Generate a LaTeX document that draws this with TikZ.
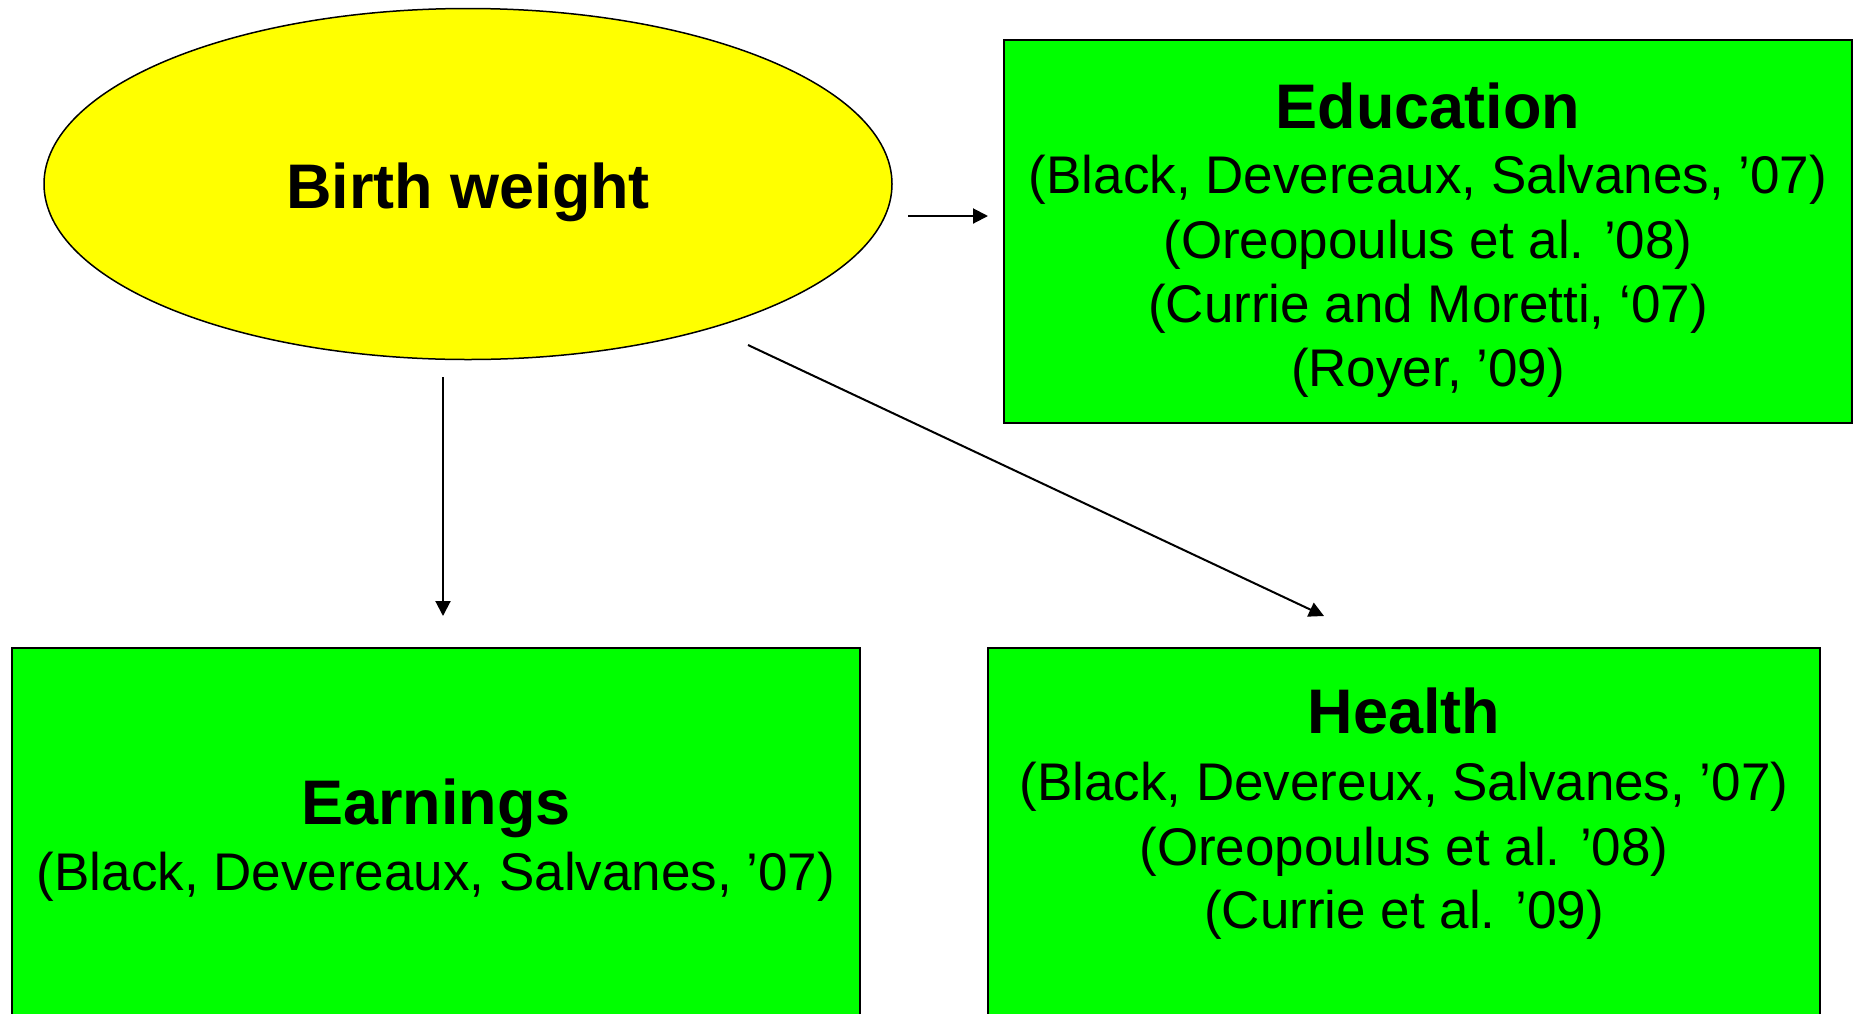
\documentclass[tikz,border=0pt]{standalone}
\usepackage{fontspec}
\setmainfont{Liberation Sans}
\usetikzlibrary{arrows.meta,shapes.geometric}
\definecolor{bwyellow}{RGB}{255,255,0}
\definecolor{boxgreen}{RGB}{0,255,0}
\begin{document}
\begin{tikzpicture}[x=1pt,y=-1pt,
  gbox/.style={draw=black, line width=2pt, fill=boxgreen, inner sep=0pt},
  ttl/.style={anchor=base, inner sep=0pt, font=\fontsize{63}{70}\selectfont\bfseries},
  body/.style={anchor=base, inner sep=0pt, font=\fontsize{53}{64}\selectfont},
  conn/.style={line width=2pt, -{Triangle[length=15pt,width=15pt]}}]
\useasboundingbox (0,0) rectangle (1858,1013);
\clip (0,0) rectangle (1858,1013);
% shapes
\node[ellipse, draw=black, line width=1.5pt, fill=bwyellow, minimum width=848pt, minimum height=351pt, inner sep=0pt] (bw) at (468,184) {};
\node[gbox, minimum width=848pt, minimum height=383pt] (edu) at (1428,231.5) {};
\node[gbox, minimum width=848pt, minimum height=400pt] (earn) at (436,848) {};
\node[gbox, minimum width=832pt, minimum height=400pt] (hlth) at (1404,848) {};
% texts
\node[ttl] (bwt) at (468,208) {Birth weight};
\node[ttl] (edut) at (1428,128) {Education};
\node[body] (edu1) at (1428,193) {(Black, Devereaux, Salvanes, ’07)};
\node[body] (edu2) at (1428,258) {(Oreopoulus et al. ’08)};
\node[body] (edu3) at (1428,322) {(Currie and Moretti, ‘07)};
\node[body] (edu4) at (1428,386) {(Royer, ’09)};
\node[ttl] (earnt) at (436,824) {Earnings};
\node[body] (earn1) at (436,890) {(Black, Devereaux, Salvanes, ’07)};
\node[ttl] (hlthtt) at (1404,733) {Health};
\node[body] (hlth1) at (1404,800) {(Black, Devereux, Salvanes, ’07)};
\node[body] (hlth2) at (1404,865) {(Oreopoulus et al. ’08)};
\node[body] (hlth3) at (1404,928) {(Currie et al. ’09)};
% connectors
\coordinate (a1s) at (908,216);
\coordinate (a1e) at (988,216);
\coordinate (a2s) at (443,377);
\coordinate (a2e) at (443,616);
\coordinate (a3s) at (748,345);
\coordinate (a3e) at (1324,616);
\draw[conn] (a1s) -- (a1e);
\draw[conn] (a2s) -- (a2e);
\draw[conn] (a3s) -- (a3e);
\end{tikzpicture}
\end{document}
